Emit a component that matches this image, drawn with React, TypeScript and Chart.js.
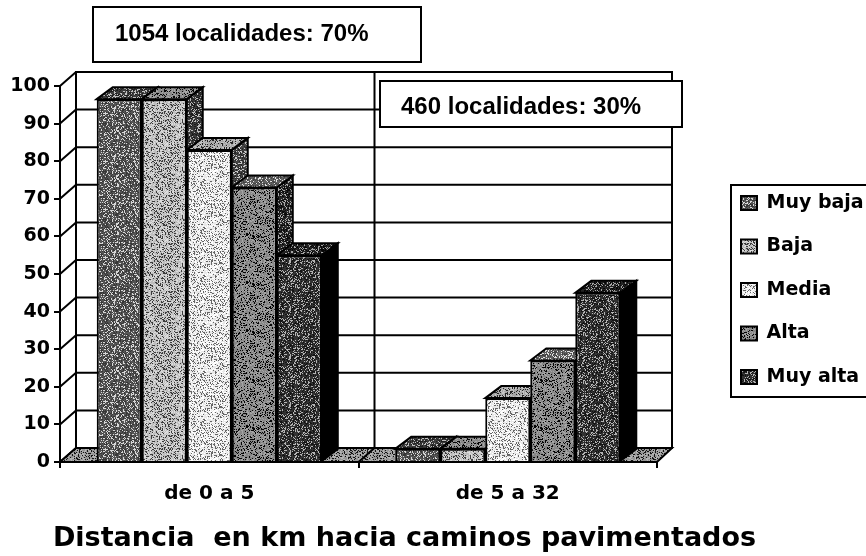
import React, { useEffect, useRef } from "react";
import { Chart, registerables } from "chart.js";

Chart.register(...registerables);

const categories = ["de 0 a 5", "de 5 a 32"];
const muyBaja = [96.5, 3.5];
const baja = [96.5, 3.5];
const media = [83, 17];
const alta = [73, 27];
const muyAlta = [55, 45];
const seriesNames = ["Muy baja", "Baja", "Media", "Alta", "Muy alta"];
const seriesValues = [muyBaja, baja, media, alta, muyAlta];
const seriesGrays = [85, 190, 232, 135, 50];
const axisTitle = "Distancia  en km hacia caminos pavimentados";
const callouts = [
  { text: "1054 localidades: 70%", left: 93, top: 7, right: 421, bottom: 62, textX: 115, textY: 34 },
  { text: "460 localidades: 30%", left: 380, top: 81, right: 682, bottom: 127, textX: 401, textY: 107 },
];

const DX = 16;
const DY = 14;
const BAR_DX = 16;
const BAR_DY = 12;

function texture(gray: number, seed: number): CanvasPattern {
  const size = 48;
  const c = document.createElement("canvas");
  c.width = size;
  c.height = size;
  const ctx = c.getContext("2d")!;
  const img = ctx.createImageData(size, size);
  let s = seed * 7919 + 13;
  for (let i = 0; i < size * size; i++) {
    s = (s * 1103515245 + 12345) & 0x7fffffff;
    const h = ((s >> 12) & 1023) / 1023;
    let v = gray;
    if (h < 0.22) v = gray > 128 ? gray - 130 : gray + 130;
    else if (h < 0.5) v = gray > 128 ? Math.min(255, gray + 30) : Math.max(0, gray - 30);
    img.data[i * 4] = v;
    img.data[i * 4 + 1] = v;
    img.data[i * 4 + 2] = v;
    img.data[i * 4 + 3] = 255;
  }
  ctx.putImageData(img, 0, 0);
  return ctx.createPattern(c, "repeat")!;
}

function poly(ctx: CanvasRenderingContext2D, pts: number[][], fill?: any) {
  ctx.beginPath();
  pts.forEach((p, i) => (i ? ctx.lineTo(p[0], p[1]) : ctx.moveTo(p[0], p[1])));
  ctx.closePath();
  if (fill) {
    ctx.fillStyle = fill;
    ctx.fill();
  }
  ctx.stroke();
}

export default function App() {
  const ref = useRef<HTMLCanvasElement>(null);
  useEffect(() => {
    document.body.style.margin = "0";
    const fronts = seriesGrays.map((g, i) => texture(g, i + 1));
    const tops = seriesGrays.map((g, i) => texture(Math.round(g * 0.72), i + 11));
    const sides = seriesGrays.map((g, i) => (i === 4 ? "#000" : texture(Math.round(g * 0.3), i + 21)));
    const floorFill = texture(150, 40);

    const scene = {
      id: "scene",
      beforeLayout(chart: any) {
        const l = chart.legend;
        if (l && !l.__wrapped) {
          const fit = l.fit.bind(l);
          l.fit = function () {
            fit();
            this.width = 209;
          };
          l.__wrapped = true;
        }
      },
      afterLayout(chart: any) {
        const l = chart.legend;
        if (l) {
          l.left = 716.5;
          l.right = 866;
          l.top = 169;
          l.bottom = 556;
        }
        const t = chart.titleBlock;
        if (t) {
          t.left = 52;
          t.right = 757;
        }
      },
      beforeDatasetsDraw(chart: any) {
        const { ctx, scales, chartArea } = chart;
        const y = scales.y;
        const { left, right } = chartArea;
        const base = y.getPixelForValue(0);
        const top = y.getPixelForValue(100);
        ctx.save();
        ctx.strokeStyle = "#000";
        ctx.lineWidth = 2;
        poly(ctx, [
          [left + DX, top - DY],
          [right + DX - 1, top - DY],
          [right + DX - 1, base - DY],
          [left + DX, base - DY],
        ], "#fff");
        y.ticks.forEach((t: any) => {
          const py = y.getPixelForValue(t.value);
          ctx.beginPath();
          ctx.moveTo(left, py);
          ctx.lineTo(left + DX, py - DY);
          ctx.lineTo(right + DX - 1, py - DY);
          ctx.stroke();
        });
        const mid = (left + right) / 2;
        ctx.beginPath();
        ctx.moveTo(mid + DX, top - DY);
        ctx.lineTo(mid + DX, base - DY);
        ctx.stroke();
        ctx.beginPath();
        ctx.moveTo(left, top);
        ctx.lineTo(left, base);
        ctx.stroke();
        poly(ctx, [
          [left, base],
          [right, base],
          [right + DX - 1, base - DY],
          [left + DX, base - DY],
        ], floorFill);
        ctx.beginPath();
        ctx.moveTo(mid, base);
        ctx.lineTo(mid + DX, base - DY);
        ctx.stroke();
        chart.data.datasets.forEach((_: any, i: number) => {
          chart.getDatasetMeta(i).data.forEach((bar: any) => {
            const half = bar.width / 2;
            const l = bar.x - half;
            const r = bar.x + half;
            poly(ctx, [
              [r, bar.y],
              [r + BAR_DX, bar.y - BAR_DY],
              [r + BAR_DX, bar.base - BAR_DY],
              [r, bar.base],
            ], sides[i]);
            poly(ctx, [
              [l, bar.y],
              [l + BAR_DX, bar.y - BAR_DY],
              [r + BAR_DX, bar.y - BAR_DY],
              [r, bar.y],
            ], tops[i]);
          });
        });
        ctx.restore();
      },
      afterDraw(chart: any) {
        const { ctx } = chart;
        ctx.save();
        callouts.forEach((b) => {
          ctx.fillStyle = "#fff";
          ctx.strokeStyle = "#000";
          ctx.lineWidth = 2;
          ctx.fillRect(b.left, b.top, b.right - b.left, b.bottom - b.top);
          ctx.strokeRect(b.left, b.top, b.right - b.left, b.bottom - b.top);
          ctx.fillStyle = "#000";
          ctx.font = "bold 24px 'Liberation Sans'";
          ctx.textBaseline = "middle";
          ctx.textAlign = "left";
          ctx.fillText(b.text, b.textX, b.textY);
        });
        ctx.strokeStyle = "#000";
        ctx.lineWidth = 2;
        ctx.beginPath();
        ctx.moveTo(866, 185);
        ctx.lineTo(731, 185);
        ctx.lineTo(731, 397);
        ctx.lineTo(866, 397);
        ctx.stroke();
        ctx.restore();
      },
    };

    const chart = new Chart(ref.current!, {
      type: "bar",
      data: {
        labels: categories,
        datasets: seriesNames.map((name, i) => ({
          label: name,
          data: seriesValues[i],
          backgroundColor: fronts[i],
          borderColor: "#000",
          borderWidth: 2,
          barPercentage: 1,
          categoryPercentage: 0.754,
        })),
      },
      options: {
        responsive: false,
        animation: false,
        layout: { padding: { top: 86, left: 0, right: 0, bottom: 0 } },
        plugins: {
          title: {
            display: true,
            position: "bottom",
            text: axisTitle,
            color: "#000",
            padding: { top: 11, bottom: 0.6 },
            font: { family: "DejaVu Sans", weight: "bold", size: 27, lineHeight: 1.2 },
          },
          tooltip: { enabled: false },
          legend: {
            position: "right",
            align: "start",
            labels: {
              color: "#000",
              boxWidth: 16,
              boxHeight: 14,
              padding: 24.5,
              font: { family: "DejaVu Sans", weight: "bold", size: 19 },
            },
          },
        },
        scales: {
          x: {
            offset: true,
            afterFit: (s: any) => {
              s.height = 50;
            },
            grid: { display: true, drawOnChartArea: false, color: "#000", lineWidth: 2, tickLength: 6, offset: true },
            border: { color: "#000", width: 2 },
            ticks: { color: "#000", padding: 14, font: { family: "DejaVu Sans", weight: "bold", size: 20 } },
          },
          y: {
            min: 0,
            max: 100,
            afterFit: (s: any) => {
              s.width = 60;
            },
            grid: { display: true, drawOnChartArea: false, color: "#000", lineWidth: 2, tickLength: 6 },
            border: { color: "#000", width: 2 },
            ticks: {
              stepSize: 10,
              color: "#000",
              padding: 4,
              font: { family: "DejaVu Sans", weight: "bold", size: 19 },
            },
          },
        },
      },
      plugins: [scene],
    } as any);
    return () => chart.destroy();
  }, []);
  return <canvas ref={ref} width={866} height={556} style={{ display: "block" }} />;
}
